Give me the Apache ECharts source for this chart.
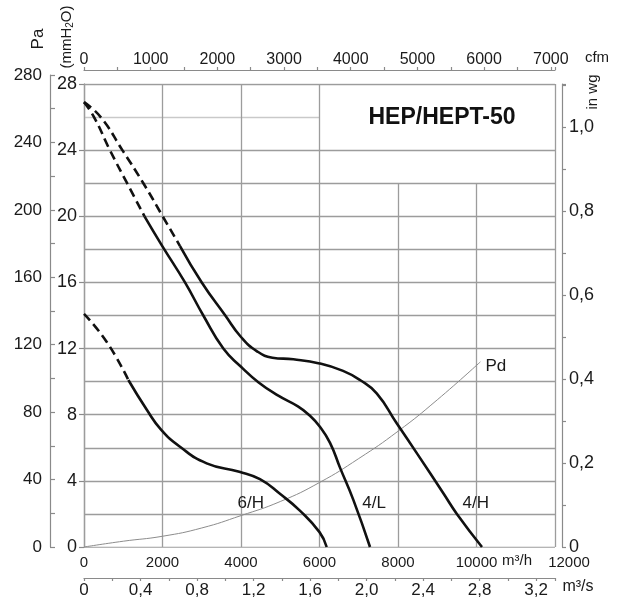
<!DOCTYPE html>
<html><head><meta charset="utf-8">
<script src="https://cdn.jsdelivr.net/npm/echarts@6/dist/echarts.min.js"></script>
<style>html,body{margin:0;padding:0;background:#fff}#c{width:617px;height:608px}</style>
</head><body><div id="c"></div>
<script>
const FONT = '"Liberation Sans", Arial, Helvetica, sans-serif';
const TXT = '#1a1a1a';
const AX = '#8a8a8a';
const GRIDC = '#9c9c9c';

// Flow in m3/h, pressure in mmH2O
const curve4H_dashed = [[0,26.9],[425,26.0],[977,24.0],[1512,22.0],[2004,20.0],[2446,18.2]];
const curve4H = [[2446,18.2],[3000,16.0],[3600,14.0],[4000,12.7],[4400,11.85],[4800,11.45],[5333,11.35],[6000,11.1],[6600,10.65],[7032,10.1],[7457,9.29],[7967,7.48],[8500,5.6],[9155,3.25],[9500,2.0],[10140,0]];
const curve4L_dashed = [[0,26.9],[255,26.0],[660,24.0],[1098,22.0],[1542,20.0]];
const curve4L = [[1542,20.0],[1979,18.26],[2573,16.0],[3040,14.0],[3550,12.0],[4000,10.9],[4450,9.95],[4950,9.15],[5450,8.5],[5750,7.95],[6000,7.3],[6268,6.3],[6522,4.8],[6862,2.85],[7287,0]];
const curve6H_dashed = [[0,14.1],[580,12.4],[1130,10.1]];
const curve6H = [[1130,10.1],[1600,8.3],[1962,7.1],[2446,6.06],[3125,5.06],[3957,4.55],[4483,4.1],[5000,3.2],[5500,2.2],[6000,0.9],[6183,0]];
const curvePd = [[0,0],[1000,0.35],[2000,0.65],[3000,1.15],[4000,1.9],[5000,2.75],[6000,3.9],[7000,5.35],[8000,7.0],[9000,8.9],[10100,11.2]];

// curve labels [name, flow, pressure]
const curveLabels = [['6/H',4250,2.64],['4/L',7393,2.62],['4/H',9982,2.62]];
const pdLabel = ['Pd',10217,10.93];

// grid lines (flow m3/h, pressure mmH2O)
const hGridFull = [0,2,4,6,8,10,12,14,16,18,20,22,24,28];
const hGridLight = 26, hGridLightEnd = 6000;
const vGridFull = [0,2000,4000,6000,12000];
const vGridShort = [8000,10000], vGridShortTop = 22;
const flowMax = 12000, pMax = 28;

// axis units
const M3H_PER_CFM = 1.699;
const MM_PER_INWG = 25.4;
const PA_MAX = 280;

const gridData = [];
hGridFull.forEach(p => gridData.push({coords:[[0,p],[flowMax,p]]}));
gridData.push({coords:[[0,hGridLight],[hGridLightEnd,hGridLight]], lineStyle:{color:'#c9c9c9'}});
vGridFull.forEach(q => gridData.push({coords:[[q,0],[q,pMax]]}));
vGridShort.forEach(q => gridData.push({coords:[[q,0],[q,vGridShortTop]]}));

const comma = v => (Math.abs(v) < 1e-9 ? '0' : v.toFixed(1).replace('.', ','));
const isMult = (v, m) => Math.abs(v/m - Math.round(v/m)) < 1e-6;

function curve(data, dashed, name) {
  return {
    type:'line', name, data, xAxisIndex:0, yAxisIndex:0,
    showSymbol:false, symbol:'none', smooth:0.5,
    lineStyle:{color:'#111', width:2.6, type: dashed ? [9,5] : 'solid', cap:'butt'},
    z:5, silent:true
  };
}
function labelPoints(items, pos) {
  return {
    symbol:'circle', symbolSize:1, itemStyle:{color:'rgba(0,0,0,0)'},
    label:{show:true, position:pos, distance:0, formatter:'{b}', color:TXT, fontSize:17, fontFamily:FONT},
    data: items.map(it => ({name:it[0], coord:[it[1], it[2]]}))
  };
}

const chart = echarts.init(document.getElementById('c'), null, {renderer:'canvas'});
const s4Hsolid = curve(curve4H, false, '4/H');
s4Hsolid.markPoint = labelPoints(curveLabels, 'inside');
const sPd = {
  type:'line', name:'Pd', data:curvePd, xAxisIndex:0, yAxisIndex:0,
  showSymbol:false, symbol:'none', smooth:0.5,
  lineStyle:{color:'#8c8c8c', width:1}, z:4, silent:true,
  markPoint: labelPoints([pdLabel], 'right')
};
const axLine = {show:true, onZero:false, lineStyle:{color:AX, width:1.2}};

chart.setOption({
  animation:false,
  backgroundColor:'#fff',
  textStyle:{fontFamily:FONT},
  grid:[
    {left:84, right:62, top:84, bottom:61},
    {left:84, right:62, top:75, bottom:61}
  ],
  xAxis:[
    {gridIndex:0, type:'value', position:'bottom', min:0, max:flowMax, interval:2000,
     axisLine:{show:false, onZero:false}, axisTick:{show:false}, splitLine:{show:false},
     axisLabel:{color:TXT, fontSize:15, fontFamily:FONT, margin:8,
       formatter: v => v === flowMax ? '{r|' + v + '}' : String(v),
       rich:{r:{padding:[0,0,0,28], fontSize:15, fontFamily:FONT, color:TXT}}}},
    {gridIndex:0, type:'value', position:'bottom', offset:31, min:0, max:flowMax/3600, interval:0.2,
     axisLine:axLine,
     axisTick:{show:true, inside:false, length:3, lineStyle:{color:AX, width:1.2}},
     splitLine:{show:false},
     axisLabel:{color:TXT, fontSize:17, fontFamily:FONT, margin:4,
       formatter: v => isMult(v, 0.4) ? comma(v) : ''}},
    {gridIndex:0, type:'value', position:'top', offset:14, min:0, max:flowMax/M3H_PER_CFM, interval:500,
     axisLine:axLine,
     axisTick:{show:true, inside:false, length:3, lineStyle:{color:AX, width:1.2}},
     splitLine:{show:false},
     axisLabel:{color:TXT, fontSize:16, fontFamily:FONT, margin:2,
       formatter: v => isMult(v, 1000) ? String(Math.round(v)) : ''}},
    {gridIndex:1, type:'value', min:0, max:flowMax, show:false}
  ],
  yAxis:[
    {gridIndex:0, type:'value', position:'left', min:0, max:pMax, interval:4,
     axisLine:{show:true, onZero:false, lineStyle:{color:GRIDC, width:1.3}}, splitLine:{show:false},
     axisTick:{show:true, inside:false, length:5, lineStyle:{color:AX, width:1.2}},
     axisLabel:{color:TXT, fontSize:18, fontFamily:FONT, margin:7}},
    {gridIndex:0, type:'value', position:'right', offset:7, min:0, max:pMax/MM_PER_INWG, interval:0.1,
     axisLine:axLine, splitLine:{show:false},
     axisTick:{show:true, inside:false, length:4, lineStyle:{color:AX, width:1.2}},
     axisLabel:{color:TXT, fontSize:18, fontFamily:FONT, margin:7,
       formatter: v => isMult(v, 0.2) && v <= 1.0001 ? comma(v) : ''}},
    {gridIndex:1, type:'value', position:'left', offset:34, min:0, max:PA_MAX, interval:20,
     axisLine:axLine, splitLine:{show:false},
     axisTick:{show:true, inside:true, length:5, lineStyle:{color:AX, width:1.2}},
     axisLabel:{color:TXT, fontSize:17, fontFamily:FONT, margin:8,
       formatter: v => isMult(v, 40) ? String(v) : ''}}
  ],
  series:[
    {type:'lines', coordinateSystem:'cartesian2d', xAxisIndex:0, yAxisIndex:0, silent:true, z:1,
     polyline:false, lineStyle:{color:GRIDC, width:1.3, opacity:1}, data:gridData},
    sPd,
    curve(curve4H_dashed, true, '4/H d'), s4Hsolid,
    curve(curve4L_dashed, true, '4/L d'), curve(curve4L, false, '4/L'),
    curve(curve6H_dashed, true, '6/H d'), curve(curve6H, false, '6/H')
  ],
  graphic:[
    {type:'text', x:442, y:118, style:{text:'HEP/HEPT-50', font:'bold 23px ' + FONT, fill:'#111', align:'center', verticalAlign:'middle'}},
    {type:'text', x:38, y:39, rotation:Math.PI/2, style:{text:'Pa', font:'17px ' + FONT, fill:TXT, align:'center', verticalAlign:'middle'}},
    {type:'text', x:67, y:37, rotation:Math.PI/2, style:{text:'(mmH{s|2}O)', font:'15px ' + FONT, fill:TXT, align:'center', verticalAlign:'middle',
      rich:{s:{fontSize:10, fontFamily:FONT, fill:TXT, verticalAlign:'bottom', padding:[6,0,0,0]}}}},
    {type:'text', x:593, y:92, rotation:Math.PI/2, style:{text:'in wg', font:'15px ' + FONT, fill:TXT, align:'center', verticalAlign:'middle'}},
    {type:'text', x:597, y:58, style:{text:'cfm', font:'15px ' + FONT, fill:TXT, align:'center', verticalAlign:'middle'}},
    {type:'text', x:517, y:561, style:{text:'m³/h', font:'15px ' + FONT, fill:TXT, align:'center', verticalAlign:'middle'}},
    {type:'text', x:578, y:587, style:{text:'m³/s', font:'16px ' + FONT, fill:TXT, align:'center', verticalAlign:'middle'}}
  ]
});
</script>
</body></html>
